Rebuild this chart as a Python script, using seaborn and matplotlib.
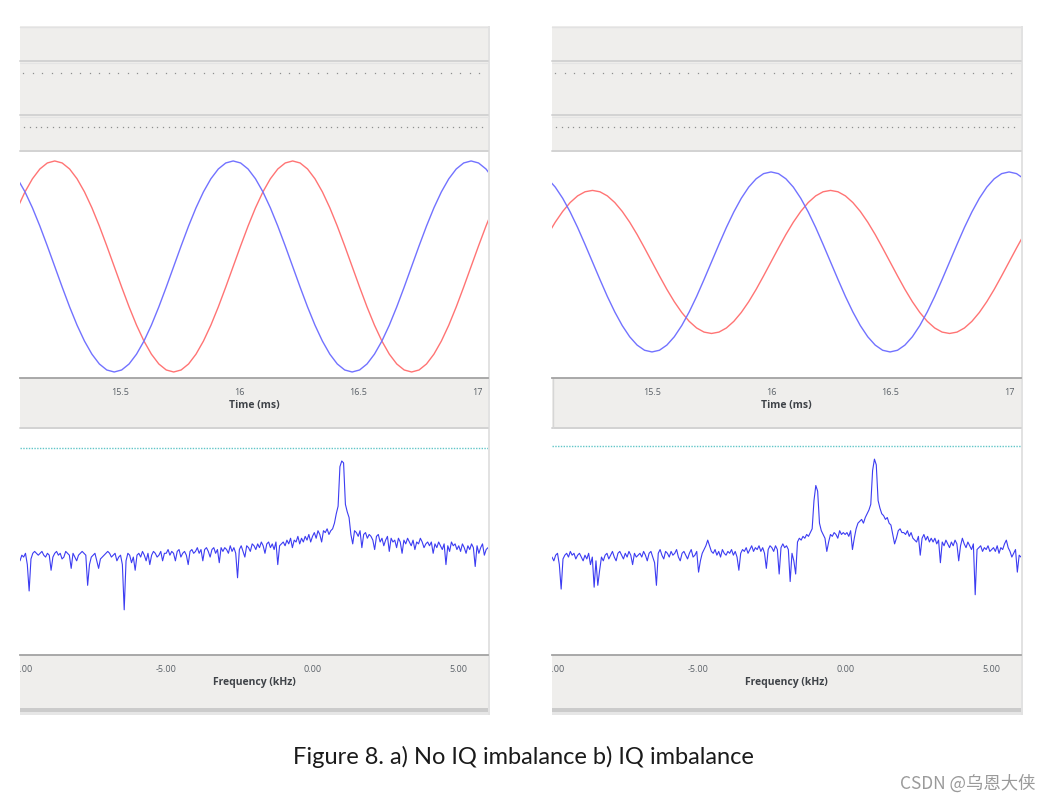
import matplotlib
matplotlib.use("Agg")
import matplotlib.pyplot as plt
import numpy as np
import seaborn as sns
from matplotlib.patches import Rectangle
from matplotlib.ticker import MultipleLocator

sns.set_style("white")
plt.rcParams["font.family"] = ["Open Sans", "DejaVu Sans"]

W, H = 1050, 802

# --- time domain traces (ms), 32 samples per ms ---
FS = 32
t_a = 14.975 + np.arange(3, 68) / FS
t_b = 15.0 + np.arange(2, 67) / FS

blue_a = [.831, .707, .556, .383, .195, 0,
          -.195, -.383, -.556, -.707, -.831, -.924, -.981, -1,
          -.981, -.924, -.831, -.707, -.556, -.383, -.195, 0,
          .195, .383, .556, .707, .831, .924, .981, 1,
          .981, .924, .831, .707, .556, .383, .195, 0,
          -.195, -.383, -.556, -.707, -.831, -.924, -.981, -1,
          -.981, -.924, -.831, -.707, -.556, -.383, -.195, 0,
          .195, .383, .556, .707, .831, .924, .981, 1,
          .981, .924, .831]
red_a = [.556, .707, .831, .924, .981, 1,
         .981, .924, .831, .707, .556, .383, .195, 0,
         -.195, -.383, -.556, -.707, -.831, -.924, -.981, -1,
         -.981, -.924, -.831, -.707, -.556, -.383, -.195, 0,
         .195, .383, .556, .707, .831, .924, .981, 1,
         .981, .924, .831, .707, .556, .383, .195, 0,
         -.195, -.383, -.556, -.707, -.831, -.924, -.981, -1,
         -.981, -.924, -.831, -.707, -.556, -.383, -.195, 0,
         .195, .383, .556]
blue_b = [.831, .752, .646, .517, .370, .209, .043,
          -.123, -.284, -.431, -.560, -.666, -.745, -.794, -.810,
          -.794, -.745, -.666, -.560, -.431, -.284, -.123, .043,
          .209, .370, .517, .646, .752, .831, .880, .896,
          .880, .831, .752, .646, .517, .370, .209, .043,
          -.123, -.284, -.431, -.560, -.666, -.745, -.794, -.810,
          -.794, -.745, -.666, -.560, -.431, -.284, -.123, .043,
          .209, .370, .517, .646, .752, .831, .880, .896,
          .880, .831]
red_b = [.303, .420, .522, .606, .669, .708, .721,
         .708, .669, .606, .522, .420, .303, .175, .043,
         -.089, -.217, -.334, -.436, -.520, -.583, -.622, -.635,
         -.622, -.583, -.520, -.436, -.334, -.217, -.089, .043,
         .175, .303, .420, .522, .606, .669, .708, .721,
         .708, .669, .606, .522, .420, .303, .175, .043,
         -.089, -.217, -.334, -.436, -.520, -.583, -.622, -.635,
         -.622, -.583, -.520, -.436, -.334, -.217, -.089, .043,
         .175, .303]

# --- spectrum (kHz, dB), 16 bins per kHz ---
freq = -10 + np.arange(257) / 16
psd_a = [
    -70, -67, -68, -66, -72, -86, -69, -66, -65, -66, -67, -66, -65, -67, -68, -66,
    -67, -75, -68, -66, -65, -67, -66, -69, -68, -65, -66, -67, -74, -66, -68, -70,
    -67, -66, -65, -66, -67, -83, -72, -68, -67, -66, -70, -74, -69, -68, -67, -66,
    -65, -66, -68, -67, -66, -70, -68, -67, -72, -96, -70, -66, -67, -71, -68, -75,
    -67, -66, -68, -65, -67, -70, -66, -72, -67, -65, -66, -68, -67, -65, -70, -66,
    -66, -64, -67, -65, -66, -70, -65, -64, -68, -66, -65, -67, -72, -65, -64, -66,
    -65, -63, -66, -64, -70, -64, -63, -65, -68, -64, -63, -66, -64, -71, -63, -65,
    -63, -64, -66, -62, -65, -63, -66, -79, -64, -62, -65, -68, -62, -63, -65, -61,
    -62, -64, -61, -63, -60, -62, -66, -61, -60, -63, -61, -64, -60, -72, -62, -61,
    -60, -62, -59, -61, -58, -63, -59, -60, -57, -61, -58, -60, -57, -59, -56, -60,
    -57, -55, -58, -54, -56, -60, -54, -55, -53, -56, -54, -53, -50, -45, -41, -20,
    -17, -18, -40, -44, -47, -56, -61, -54, -55, -57, -54, -63, -56, -55, -58, -56,
    -57, -59, -64, -57, -56, -60, -58, -62, -59, -57, -65, -58, -60, -59, -63, -58,
    -60, -66, -59, -61, -58, -60, -62, -59, -64, -60, -61, -58, -60, -63, -61, -60,
    -62, -60, -66, -61, -63, -60, -62, -64, -61, -72, -62, -65, -60, -62, -61, -64,
    -62, -65, -61, -63, -66, -62, -64, -61, -63, -73, -62, -66, -63, -61, -67, -64,
    -63]
psd_b = [
    -68, -70, -67, -66, -72, -85, -69, -67, -66, -68, -65, -67, -66, -69, -67, -66,
    -68, -70, -67, -69, -66, -72, -68, -84, -70, -83, -75, -68, -70, -67, -66, -69,
    -67, -65, -68, -70, -66, -65, -67, -69, -66, -68, -65, -67, -72, -66, -68, -67,
    -66, -68, -65, -67, -70, -66, -65, -68, -71, -83, -66, -64, -67, -69, -65, -66,
    -68, -65, -67, -66, -64, -68, -70, -66, -65, -67, -69, -66, -64, -68, -67, -65,
    -76, -70, -66, -64, -62, -59, -62, -65, -66, -64, -67, -65, -68, -64, -66, -67,
    -65, -66, -64, -67, -65, -68, -75, -66, -64, -65, -63, -66, -64, -62, -65, -63,
    -64, -62, -65, -63, -66, -74, -64, -62, -63, -65, -62, -64, -77, -63, -61, -63,
    -62, -64, -81, -66, -70, -77, -60, -58, -59, -57, -58, -56, -57, -55, -53, -38,
    -30, -33, -50, -54, -56, -58, -65, -60, -56, -57, -55, -56, -58, -54, -56, -55,
    -56, -55, -57, -54, -64, -58, -53, -50, -49, -48, -50, -47, -45, -43, -40, -22,
    -16, -19, -38, -42, -45, -46, -48, -47, -50, -51, -56, -61, -58, -54, -53, -55,
    -55, -56, -54, -57, -55, -58, -59, -60, -57, -67, -58, -56, -59, -57, -60, -58,
    -60, -58, -61, -59, -71, -60, -62, -59, -61, -63, -60, -62, -59, -61, -70, -62,
    -58, -61, -63, -60, -62, -64, -61, -88, -64, -63, -62, -65, -63, -64, -62, -65,
    -64, -63, -65, -62, -66, -63, -64, -61, -59, -63, -65, -68, -66, -64, -76, -67,
    -68]
trigger_a = -10
trigger_b = -9

time_ticks = [15.5, 16, 16.5, 17]
time_labels = ["15.5", "16", "16.5", "17"]
freq_ticks = [-10, -5, 0, 5]
freq_labels = ["-10.00", "-5.00", "0.00", "5.00"]
caption = "Figure 8. a) No IQ imbalance b) IQ imbalance"
watermark = "CSDN @乌恩大侠"

GRAY = "#efeeec"
LINE = "#d3d3d3"
RED = "#ff7474"
BLUE = "#7272ff"
SPEC = "#3c3cf2"
TICK_TXT = "#5b6168"
LABEL_TXT = "#3f4348"


def px_rect(x0, y0, x1, y1):
    return [x0 / W, 1 - y1 / H, (x1 - x0) / W, (y1 - y0) / H]


def draw_frame(bg, x0, x1):
    """Grey Qt-style container with the two control strips on top."""
    bg.add_patch(Rectangle((x0, 26), x1 - x0, 682, color=GRAY, lw=0))
    bg.plot([x0, x1], [26.5, 26.5], color="#e2e2e2", lw=1)
    for y in (61, 115, 150.5, 427.5):
        bg.plot([x0, x1], [y, y], color=LINE, lw=1.4)
        bg.plot([x0, x1], [y + 1.6, y + 1.6], color="#e4e4e4", lw=0.8)
    dots1 = np.arange(x0 + 3, x1 - 2, 9.5)
    bg.plot(dots1, np.full(len(dots1), 72.5), ls="none", marker="s",
            ms=0.9, mew=0, color="#8f8f8f")
    dots2 = np.arange(x0 + 4, x1 - 2, 5.8)
    bg.plot(dots2, np.full(len(dots2), 126.5), ls="none", marker="s",
            ms=0.9, mew=0, color="#8f8f8f")
    bg.add_patch(Rectangle((x0, 708), x1 - x0, 4, color="#cbcbcb", lw=0))
    bg.add_patch(Rectangle((x0, 712), x1 - x0, 3, color="#e6e6e6", lw=0))
    bg.add_patch(Rectangle((x1, 26), 2, 689, color="#e2e2e2", lw=0))


def style_axis(ax, ticks, labels, minor, xlabel):
    for side in ("left", "right", "top"):
        ax.spines[side].set_visible(False)
    ax.spines["bottom"].set_color("#a2a2a2")
    ax.spines["bottom"].set_linewidth(1.3)
    ax.set_yticks([])
    ax.set_ylabel("")
    ax.set_xticks(ticks)
    ax.set_xticklabels(labels)
    ax.xaxis.set_minor_locator(MultipleLocator(minor))
    ax.tick_params(axis="x", which="major", direction="out", length=5,
                   width=1, color="#8d8d8d", labelsize=6.5,
                   labelcolor=TICK_TXT, pad=2.5)
    ax.tick_params(axis="x", which="minor", direction="out", length=3,
                   width=1, color="#8d8d8d")
    ax.set_xlabel(xlabel, fontsize=7.5, fontweight="bold",
                  color=LABEL_TXT, labelpad=1.5)
    ax.set_facecolor("white")


def draw_panel(fig, bg, x0, x1, t, blue, red, psd, trig, tlim):
    draw_frame(bg, x0, x1)

    ax_t = fig.add_axes(px_rect(x0, 152, x1, 378))
    sns.lineplot(x=t, y=red, ax=ax_t, color=RED, linewidth=1.0,
                 estimator=None, sort=False)
    sns.lineplot(x=t, y=blue, ax=ax_t, color=BLUE, linewidth=1.0,
                 estimator=None, sort=False)
    ax_t.set_xlim(*tlim)
    ax_t.set_ylim(-1.057, 1.085)
    style_axis(ax_t, time_ticks, time_labels, 0.1, "Time (ms)")

    ax_f = fig.add_axes(px_rect(x0, 429, x1, 655))
    ax_f.axhline(trig, color="#62c6c8", lw=1.0, ls=(0, (1, 1)))
    sns.lineplot(x=freq, y=psd, ax=ax_f, color=SPEC, linewidth=0.8,
                 estimator=None, sort=False)
    ax_f.set_xlim(-10, 6.0)
    ax_f.set_ylim(-120, 0)
    style_axis(ax_f, freq_ticks, freq_labels, 1, "Frequency (kHz)")

    # the widget clips the left half of the first frequency label
    fig.add_artist(Rectangle(((x0 - 30) / W, 1 - 678 / H), 30 / W, 18 / H,
                             transform=fig.transFigure, color="white",
                             lw=0, zorder=10))


fig = plt.figure(figsize=(W / 100, H / 100), dpi=100)
bg = fig.add_axes([0, 0, 1, 1])
bg.set_xlim(0, W)
bg.set_ylim(H, 0)
bg.axis("off")

draw_panel(fig, bg, 20, 488, t_a, blue_a, red_a, psd_a, trigger_a,
           (15.079, 17.046))
draw_panel(fig, bg, 552, 1021, t_b, blue_b, red_b, psd_b, trigger_b,
           (15.08, 17.05))

# faint vertical edge on the second widget
bg.plot([552.5, 552.5], [152, 655], color="#d6d6d6", lw=1, zorder=5)

fig.text(523 / W, 1 - 757 / H, caption, ha="center", va="center",
         fontsize=17, color="#1a1a1a", family=["Lato", "DejaVu Sans"])
fig.text(1036 / W, 1 - 784 / H, watermark, ha="right", va="center",
         fontsize=12.5, color="#9a9a9a",
         family=["Noto Sans CJK SC", "DejaVu Sans"])

fig.savefig("out.png", dpi=100)
